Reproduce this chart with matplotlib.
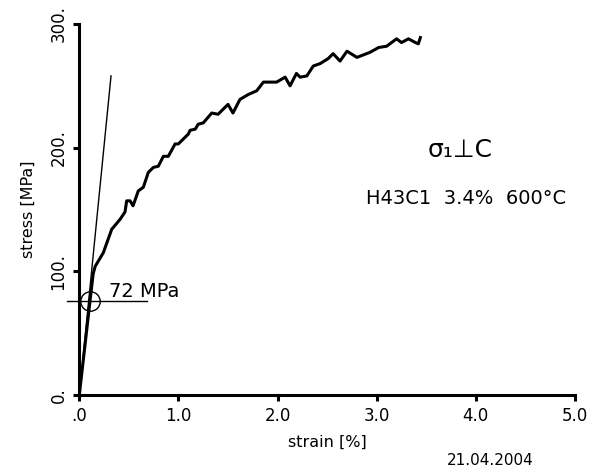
import numpy as np
import matplotlib
matplotlib.use("Agg")
import matplotlib.pyplot as plt

# stress-strain curve
strain = [0.0, 0.05, 0.108, 0.14, 0.16, 0.242, 0.327, 0.411, 0.461, 0.478, 0.512, 0.542,
          0.595, 0.646, 0.696, 0.747, 0.797, 0.848, 0.898, 0.966, 0.999, 1.10, 1.117,
          1.17, 1.20, 1.25, 1.336, 1.40, 1.50, 1.55, 1.62, 1.705, 1.79, 1.857, 1.907,
          1.99, 2.076, 2.126, 2.19, 2.227, 2.295, 2.36, 2.43, 2.51, 2.56, 2.63, 2.70,
          2.80, 2.93, 3.02, 3.10, 3.20, 3.25, 3.32, 3.39, 3.42, 3.44]
stress = [0, 35, 76, 98, 104, 115, 134, 142, 148, 157, 157, 153,
          165, 168, 180, 184, 185, 193, 193, 203, 203, 211, 214,
          215, 219, 220, 228, 227, 235, 228, 239, 243, 246, 253, 253,
          253, 257, 250, 260, 257, 258, 266, 268, 272, 276, 270, 278,
          273, 277, 281, 282, 288, 285, 288, 285, 284, 289]

# elastic line and yield mark
elastic_x = [0.0, 0.32]
elastic_y = [0, 258]
yield_strain = 0.108
yield_stress = 75.7
yield_line_x = [-0.127, 0.68]

xticks = [0, 1, 2, 3, 4, 5]
xtick_labels = [".0", "1.0", "2.0", "3.0", "4.0", "5.0"]
yticks = [0, 100, 200, 300]
ytick_labels = ["0.", "100.", "200.", "300."]

plt.rcParams['font.family'] = ['DejaVu Sans']

fig = plt.figure(figsize=(5.9, 4.73), dpi=100)
ax = fig.add_axes([0.1344, 0.1649, 0.8402, 0.7844])

ax.plot(strain, stress, color='black', lw=2.2, solid_joinstyle='round')
ax.plot(elastic_x, elastic_y, color='black', lw=1.0)
ax.plot(yield_line_x, [yield_stress, yield_stress], color='black', lw=1.0, clip_on=False)
ax.plot([yield_strain], [yield_stress], 'o', mfc='none', mec='black', ms=14, mew=1.0, clip_on=False)
ax.text(0.30, yield_stress, "72 MPa", fontsize=14, va='bottom', ha='left')

ax.set_xlim(0, 5)
ax.set_ylim(0, 300)
ax.set_xticks(xticks)
ax.set_xticklabels(xtick_labels, fontsize=12)
ax.set_yticks(yticks)
ax.set_yticklabels(ytick_labels, fontsize=12, rotation=90, va='center')

for s in ['top', 'right']:
    ax.spines[s].set_visible(False)
for s in ['left', 'bottom']:
    ax.spines[s].set_linewidth(2.2)
ax.tick_params(direction='out', length=4.5, width=2.2, pad=4)

ax.set_xlabel("strain [%]", fontsize=11.5, labelpad=7)
ax.set_ylabel("stress [MPa]", fontsize=11.5, labelpad=10)

fig.text(460/590, 1 - 150/473, "\u03c3\u2081\u22a5C", fontsize=18, ha='center', va='center')
fig.text(466/590, 1 - 199/473, "H43C1  3.4%  600\u00b0C", fontsize=14, ha='center', va='center')
fig.text(490/590, 1 - 460/473, "21.04.2004", fontsize=11, ha='center', va='center')

fig.savefig("out.png", dpi=100)
